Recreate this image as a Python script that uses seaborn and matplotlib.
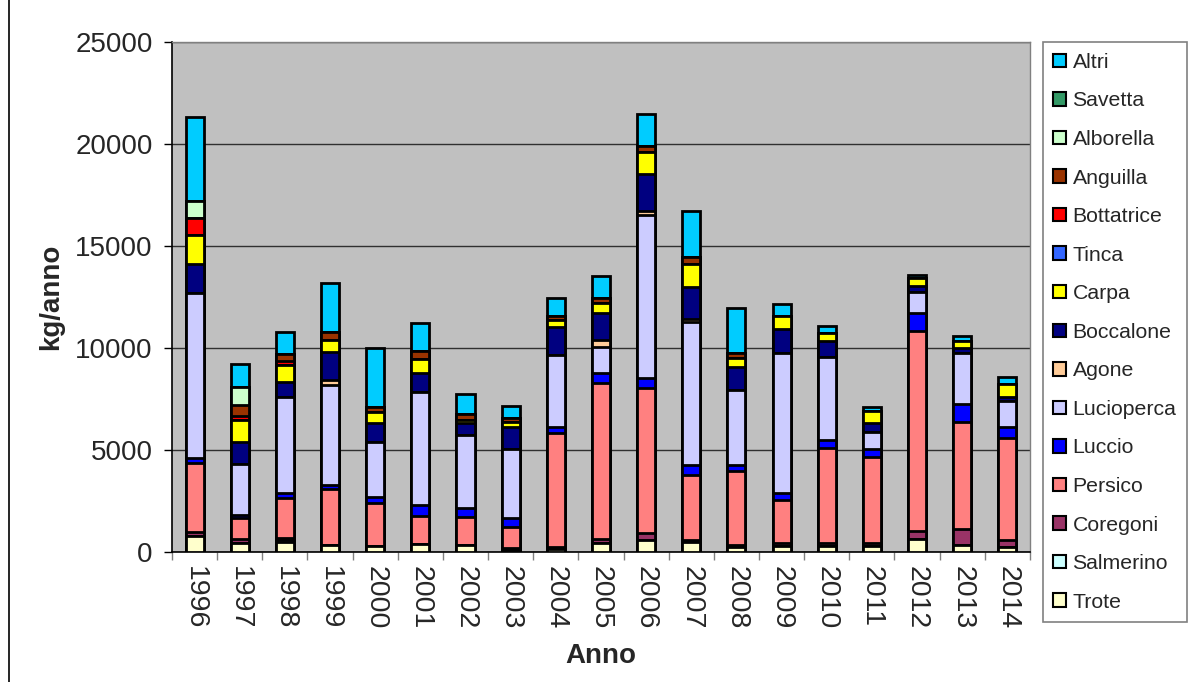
import numpy as np
import pandas as pd
import matplotlib
matplotlib.use("Agg")
import matplotlib.pyplot as plt
import seaborn as sns
from matplotlib.patches import Patch
from matplotlib.lines import Line2D

# Anni e specie (dal basso verso l'alto della pila)
anni = [str(a) for a in range(1996, 2015)]
specie = ["Trote", "Salmerino", "Coregoni", "Persico", "Luccio", "Lucioperca",
          "Agone", "Boccalone", "Carpa", "Tinca", "Bottatrice", "Anguilla",
          "Alborella", "Savetta", "Altri"]

# kg/anno
trote      = [800, 460, 470, 330, 300, 390, 345, 120, 130, 420, 600, 470, 240, 300, 300, 300, 620, 340, 230]
salmerino  = [0, 0, 130, 0, 0, 0, 0, 0, 0, 0, 0, 0, 0, 0, 0, 0, 0, 0, 0]
coregoni   = [200, 160, 80, 0, 0, 0, 0, 60, 100, 200, 350, 120, 100, 160, 120, 155, 425, 770, 360]
persico    = [3350, 1050, 1950, 2740, 2085, 1375, 1385, 1065, 5585, 7675, 7075, 3200, 3630, 2090, 4655, 4215, 9800, 5275, 4980]
luccio     = [250, 165, 245, 200, 325, 540, 410, 425, 330, 460, 520, 490, 290, 360, 410, 360, 850, 865, 540]
lucioperca = [8100, 2480, 4740, 4900, 2700, 5550, 3600, 3380, 3525, 1300, 7975, 6990, 3660, 6830, 4080, 865, 1030, 2485, 1300]
agone      = [0, 0, 0, 245, 0, 0, 0, 0, 0, 330, 200, 150, 0, 0, 0, 0, 0, 0, 0]
boccalone  = [1430, 1080, 700, 1385, 900, 935, 600, 1100, 1340, 1335, 1800, 1550, 1140, 1175, 785, 410, 310, 250, 200]
carpa      = [1400, 1100, 850, 580, 575, 650, 150, 200, 350, 500, 1100, 1140, 450, 650, 400, 585, 390, 350, 620]
tinca      = [0] * 19
bottatrice = [850, 160, 180, 0, 0, 0, 0, 0, 0, 0, 0, 0, 0, 0, 0, 0, 0, 0, 0]
anguilla   = [0, 540, 375, 410, 210, 400, 260, 200, 200, 250, 275, 330, 260, 0, 0, 0, 0, 0, 0]
alborella  = [850, 880, 0, 0, 0, 0, 0, 0, 0, 0, 0, 0, 0, 0, 0, 0, 0, 0, 0]
savetta    = [0] * 19
altri      = [4100, 1120, 1080, 2400, 2920, 1375, 1020, 600, 870, 1060, 1555, 2290, 2170, 585, 325, 200, 150, 250, 330]

colori = {
    "Altri": "#00CCFF", "Savetta": "#339966", "Alborella": "#CCFFCC",
    "Anguilla": "#993300", "Bottatrice": "#FF0000", "Tinca": "#3366FF",
    "Carpa": "#FFFF00", "Boccalone": "#000080", "Agone": "#FFCC99",
    "Lucioperca": "#CCCCFF", "Luccio": "#0000FF", "Persico": "#FF8080",
    "Coregoni": "#993366", "Salmerino": "#CCFFFF", "Trote": "#FFFFCC",
}

df = pd.DataFrame(
    [trote, salmerino, coregoni, persico, luccio, lucioperca, agone, boccalone,
     carpa, tinca, bottatrice, anguilla, alborella, savetta, altri],
    index=specie, columns=anni).T
cum = df.cumsum(axis=1)

sns.set_style("white")
plt.rcParams["font.family"] = ["Liberation Sans", "DejaVu Sans"]

fig = plt.figure(figsize=(12, 6.82), dpi=100)
ax = fig.add_axes([0.1433, 0.1906, 0.7150, 0.7478])
ax.set_facecolor("#C0C0C0")

# pile: disegno le somme cumulative dall'alto verso il basso
for sp in specie[::-1]:
    sns.barplot(x=anni, y=cum[sp].values, color=colori[sp], width=0.4,
                edgecolor="black", linewidth=2.0, errorbar=None,
                saturation=1, ax=ax, zorder=3)

ax.set_xlim(-0.5, 18.5)
ax.set_ylim(0, 25000)
ax.set_yticks(range(0, 25001, 5000))
ax.yaxis.grid(True, color="#303030", linewidth=1.0, zorder=0)
ax.set_axisbelow(True)

ax.tick_params(axis="y", labelsize=20, length=6, width=1, color="black",
               direction="out", left=True, pad=8)
ax.set_xticks(range(19))
ax.set_xticklabels(anni, rotation=270, fontsize=20.5)
ax.set_xticks(np.arange(-0.5, 19, 1), minor=True)
ax.tick_params(axis="x", which="major", length=0, pad=10, bottom=True)
ax.tick_params(axis="x", which="minor", length=6, width=1, color="#808080",
               direction="out", bottom=True)

for s in ["top", "right"]:
    ax.spines[s].set_color("#808080")
    ax.spines[s].set_linewidth(1)
for s in ["left", "bottom"]:
    ax.spines[s].set_color("black")
    ax.spines[s].set_linewidth(1.2)

ax.set_xlabel("Anno", fontsize=20, fontweight="bold", labelpad=10)
ax.set_ylabel("kg/anno", fontsize=20, fontweight="bold", labelpad=8)

handles = [Patch(facecolor=colori[sp], edgecolor="black", linewidth=1.5)
           for sp in specie[::-1]]
leg = fig.legend(handles, specie[::-1], loc="upper left",
                 bbox_to_anchor=(0.869, 0.938), fontsize=15.3, frameon=True,
                 fancybox=False, edgecolor="#808080", framealpha=1,
                 handlelength=0.6, handleheight=0.6, handletextpad=0.3,
                 labelspacing=0.92, borderpad=0.5, borderaxespad=0)
leg.get_frame().set_linewidth(1.2)

# bordo esterno del grafico
fig.add_artist(Line2D([0.0075, 0.0075], [0, 1], transform=fig.transFigure,
                      color="black", linewidth=1.2))

fig.savefig("out.png", dpi=100)
